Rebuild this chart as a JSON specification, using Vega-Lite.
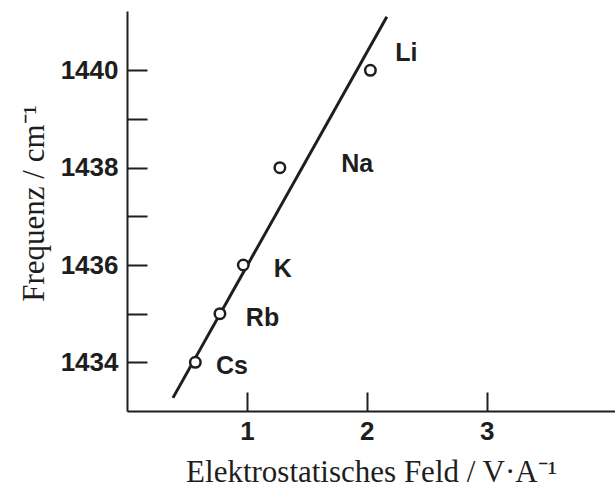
{
  "$schema": "https://vega.github.io/schema/vega-lite/v6.json",
  "width": 488,
  "height": 400,
  "autosize": {"type": "none"},
  "padding": {"left": 127, "top": 11, "right": 0, "bottom": 77},
  "background": "white",
  "config": {
    "view": {"stroke": null},
    "axis": {
      "grid": false,
      "domainColor": "#1e1e1e",
      "tickColor": "#1e1e1e",
      "labelColor": "#1e1e1e",
      "titleColor": "#1e1e1e",
      "domainWidth": 2,
      "tickWidth": 2,
      "labelFont": "Liberation Sans",
      "labelFontWeight": "bold",
      "labelFontSize": 26,
      "titleFont": "Liberation Serif",
      "titleFontWeight": "normal",
      "titleFontSize": 31
    }
  },
  "datasets": {
    "ions": [
      {"ion": "Li", "feld": 2.03, "freq": 1440.0, "lx": 2.33, "ly": 1440.35},
      {"ion": "Na", "feld": 1.275, "freq": 1438.0, "lx": 1.92, "ly": 1438.08},
      {"ion": "K", "feld": 0.97, "freq": 1436.0, "lx": 1.3, "ly": 1435.92},
      {"ion": "Rb", "feld": 0.775, "freq": 1435.0, "lx": 1.13, "ly": 1434.92},
      {"ion": "Cs", "feld": 0.57, "freq": 1434.0, "lx": 0.875, "ly": 1433.92}
    ],
    "fit": [
      {"feld": 0.383, "freq": 1433.27},
      {"feld": 2.167, "freq": 1441.1}
    ]
  },
  "layer": [
    {
      "data": {"name": "fit"},
      "mark": {"type": "line", "color": "#1e1e1e", "strokeWidth": 3},
      "encoding": {
        "x": {
          "field": "feld",
          "type": "quantitative",
          "scale": {"domain": [0, 4.07], "nice": false, "zero": false},
          "axis": {
            "values": [1, 2, 3],
            "format": "d",
            "tickSize": -19,
            "labelPadding": 26,
            "title": "Elektrostatisches Feld / V·A⁻¹",
            "titlePadding": 13
          }
        },
        "y": {
          "field": "freq",
          "type": "quantitative",
          "scale": {"domain": [1433, 1441.22], "nice": false, "zero": false},
          "axis": {
            "values": [1434, 1435, 1436, 1437, 1438, 1439, 1440],
            "format": "d",
            "labelExpr": "datum.value % 2 === 0 ? datum.label : ''",
            "tickSize": -20,
            "labelPadding": 29,
            "title": "Frequenz / cm⁻¹",
            "titlePadding": 10,
            "titleY": 192
          }
        }
      }
    },
    {
      "data": {"name": "ions"},
      "mark": {"type": "point", "shape": "circle", "fill": "white", "stroke": "#1e1e1e", "strokeWidth": 2.5, "size": 110, "opacity": 1},
      "encoding": {
        "x": {"field": "feld", "type": "quantitative"},
        "y": {"field": "freq", "type": "quantitative"}
      }
    },
    {
      "data": {"name": "ions"},
      "mark": {"type": "text", "font": "Liberation Sans", "fontWeight": "bold", "fontSize": 25, "color": "#1e1e1e", "align": "center", "baseline": "middle"},
      "encoding": {
        "x": {"field": "lx", "type": "quantitative"},
        "y": {"field": "ly", "type": "quantitative"},
        "text": {"field": "ion"}
      }
    }
  ]
}
